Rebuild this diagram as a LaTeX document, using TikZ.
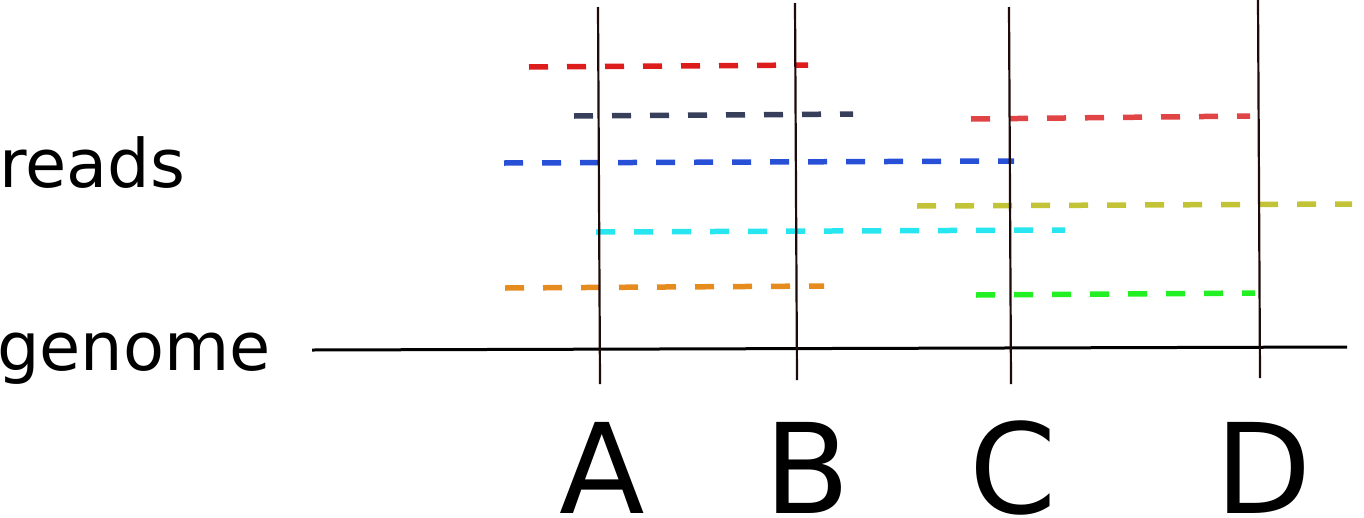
\documentclass[tikz,border=0pt]{standalone}
\usepackage{fontspec}
\setmainfont{DejaVu Sans}
\usetikzlibrary{positioning}

\definecolor{readred}{RGB}{221,28,28}
\definecolor{readnavy}{RGB}{55,63,90}
\definecolor{readblue}{RGB}{40,80,214}
\definecolor{readrose}{RGB}{224,68,68}
\definecolor{readolive}{RGB}{195,195,55}
\definecolor{readcyan}{RGB}{40,230,240}
\definecolor{readorange}{RGB}{230,140,30}
\definecolor{readgreen}{RGB}{35,240,35}
\definecolor{markline}{RGB}{30,10,10}

\begin{document}
\begin{tikzpicture}[
    x=1pt, y=-1pt,
    read/.style={line width=5.5pt, dash pattern=on 19pt off 19pt},
    marker/.style={line width=2.2pt, draw=markline},
    axislabel/.style={anchor=base west, inner sep=0pt, font=\fontsize{67}{80}\selectfont},
    poslabel/.style={anchor=base west, inner sep=0pt, font=\fontsize{125}{140}\selectfont},
]
\useasboundingbox (0,0) rectangle (1364,517);

% reads
\draw[read, readred]    (529,67)  -- (808,65);
\draw[read, readnavy]   (574,116) -- (853,114);
\draw[read, readblue]   (504,163) -- (1014,161);
\draw[read, readrose]   (971,119) -- (1250,116);
\draw[read, readolive]  (917,206) -- (1352,204);
\draw[read, readcyan]   (596,232) -- (1065,230);
\draw[read, readorange] (505,288) -- (824,286);
\draw[read, readgreen]  (976,295) -- (1255,293);

% genome
\draw[line width=3pt] (312,350) -- (1347,347);

% positions
\draw[marker] (598,7) -- (600,384);
\draw[marker] (795,3) -- (797,380);
\draw[marker] (1009,7) -- (1011,384);
\draw[marker] (1258,0) -- (1260,378);

\node[axislabel] (reads)  at (-1,187) {reads};
\node[axislabel] (genome) at (-3,370) {genome};

\node[poslabel] (posA) at (559,513) {A};
\node[poslabel] (posB) at (764,513) {B};
\node[poslabel] (posC) at (969,513) {C};
\node[poslabel] (posD) at (1215,513) {D};
\end{tikzpicture}
\end{document}
